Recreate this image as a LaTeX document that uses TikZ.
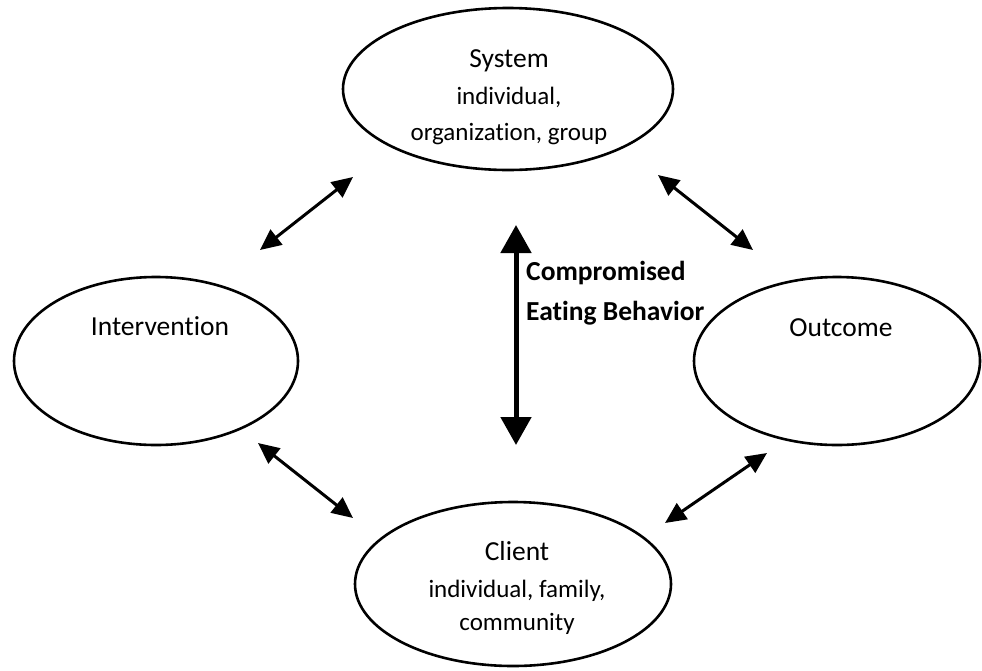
\documentclass[tikz,border=0pt]{standalone}
\usepackage{fontspec}
\setmainfont{Carlito}[Ligatures=NoCommon]
\usetikzlibrary{arrows.meta,shapes.geometric}
\begin{document}
\begin{tikzpicture}[x=1pt,y=-1pt,
  oval/.style={draw, line width=2.6pt, ellipse, inner sep=0pt},
  title/.style={anchor=base, inner sep=0pt, font=\fontsize{27.5}{30}\selectfont},
  sub/.style={anchor=base, inner sep=0pt, font=\fontsize{25}{28}\selectfont},
  link/.style={line width=3pt, {Triangle[length=21pt,width=19pt]}-{Triangle[length=21pt,width=19pt]}},
  axis/.style={line width=5pt, {Triangle[length=28pt,width=30pt]}-{Triangle[length=28pt,width=30pt]}}]
\useasboundingbox (0,0) rectangle (982,670);
\fill[white] (0,0) rectangle (982,670);

% the four ellipses
\node[oval, minimum width=330pt, minimum height=162pt] (sys) at (508,89) {};
\node[oval, minimum width=284pt, minimum height=168pt] (int) at (156,361) {};
\node[oval, minimum width=286pt, minimum height=168pt] (out) at (837,361) {};
\node[oval, minimum width=316pt, minimum height=164pt] (cli) at (513,584) {};

% their labels
\node[title] (sysA) at (509,67) {System};
\node[sub]   (sysB) at (509,104) {individual,};
\node[sub]   (sysC) at (509,140) {organization, group};
\node[title] (intA) at (160,335) {Intervention};
\node[title] (outA) at (841,336) {Outcome};
\node[title] (cliA) at (517,560) {Client};
\node[sub]   (cliB) at (517,597) {individual, family,};
\node[sub]   (cliC) at (517,630) {community};

% central axis and its label
\coordinate (vTop) at (516,225);
\coordinate (vBot) at (516,445);
\draw[axis] (vTop) -- (vBot);
\node[anchor=base west, inner sep=0pt, font=\fontsize{27.5}{30}\selectfont\bfseries] (cebA) at (526,280) {Compromised};
\node[anchor=base west, inner sep=0pt, font=\fontsize{27.5}{30}\selectfont\bfseries] (cebB) at (526,320) {Eating Behavior};

% two-way links between the ellipses
\coordinate (a1) at (353,177); \coordinate (a2) at (260,250);
\coordinate (b1) at (658,175); \coordinate (b2) at (753,250);
\coordinate (c1) at (258,443); \coordinate (c2) at (353,518);
\coordinate (d1) at (767,453); \coordinate (d2) at (665,523);
\draw[link] (a1) -- (a2);
\draw[link] (b1) -- (b2);
\draw[link] (c1) -- (c2);
\draw[link] (d1) -- (d2);
\end{tikzpicture}
\end{document}
